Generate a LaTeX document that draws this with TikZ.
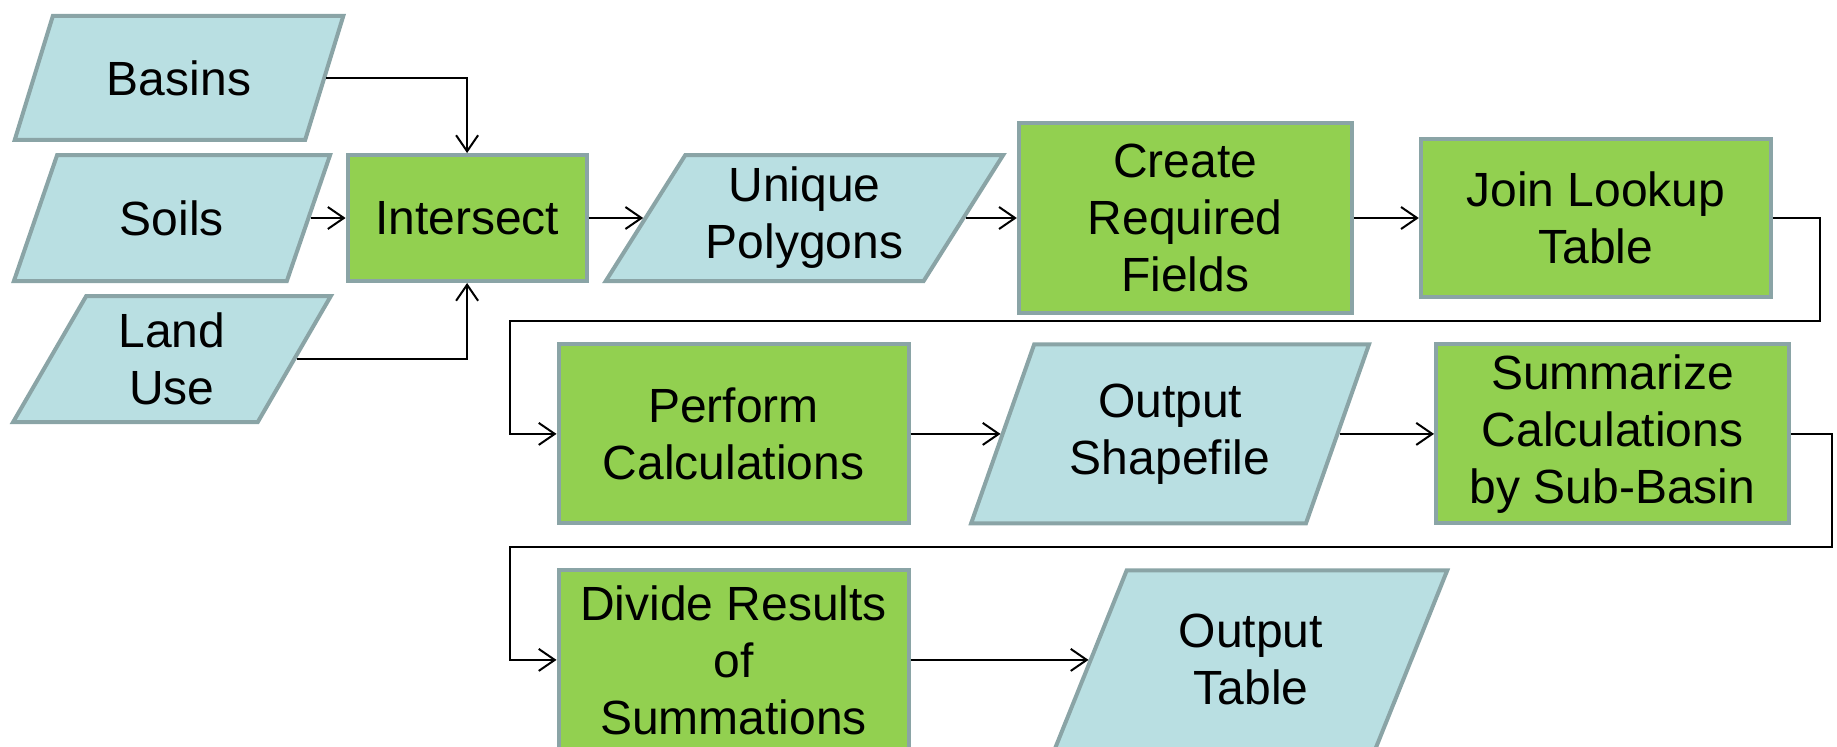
\documentclass[tikz,border=0pt]{standalone}
\usepackage{fontspec}
\setmainfont{Liberation Sans}
\usepackage{tikz}
\usetikzlibrary{arrows.meta,positioning,shapes.geometric,calc}
\definecolor{databox}{HTML}{B9DFE2}
\definecolor{procbox}{HTML}{92D050}
\definecolor{boxline}{HTML}{8AA4A6}

\begin{document}
\begin{tikzpicture}[
  every node/.style={draw=boxline, line width=2pt, align=center, inner sep=2pt, font=\fontsize{24}{28.5}\selectfont},
  proc/.style={fill=procbox, minimum width=175pt, minimum height=89.5pt},
  data/.style={trapezium, fill=databox, trapezium stretches=true, trapezium left angle=#1, trapezium right angle=180-#1},
  arr/.style={-{Straight Barb[length=8pt,width=11pt]}, line width=1pt},
]
  \useasboundingbox (0,0) rectangle (918.5pt,-373pt);

  % inputs
  \node[data=64, minimum width=159pt, minimum height=63pt] (soils) at (86pt,-109pt) {Soils};
  \node[data=62, minimum width=166pt, minimum height=62pt, above=5.5pt of soils, xshift=3.5pt] (basins) {Basins};
  \node[data=64, minimum width=159pt, minimum height=63pt, below=5.5pt of soils] (landuse) {Land\\Use};

  % first row
  \node[proc, minimum width=119.5pt, minimum height=63pt, right=17.5pt of soils] (intersect) {Intersect};
  \node[data=58, minimum width=199pt, minimum height=63pt, right=27.3pt of intersect] (unique) {Unique\\Polygons};
  \node[proc, minimum width=166.5pt, minimum height=95pt, right=25.5pt of unique] (create) {Create\\Required\\Fields};
  \node[proc, minimum height=79pt, right=32.5pt of create] (join) {Join Lookup\\Table};

  % second row
  \node[proc, below=29.7pt of unique, xshift=-35.5pt] (perform) {Perform\\Calculations};
  \node[data=66, minimum width=199pt, minimum height=89.5pt, right=45pt of perform] (shapefile) {Output\\Shapefile};
  \node[proc, minimum width=176.5pt, right=47.2pt of shapefile] (summarize) {Summarize\\Calculations\\by Sub-Basin};

  % third row
  \node[proc, below=21.5pt of perform] (divide) {Divide Results\\of\\Summations};
  \node[data=66, minimum width=196.5pt, minimum height=89.5pt, right=89pt of divide] (table) {Output\\Table};

  \coordinate (turna) at ($(perform.west)+(-23.5pt,56.5pt)$);
  \coordinate (turnb) at ($(divide.west)+(-23.5pt,56.5pt)$);

  \draw[arr] (basins.east) -| (intersect.north);
  \draw[arr] (soils.east) -- (intersect.west);
  \draw[arr] (landuse.east) -| (intersect.south);
  \draw[arr] (intersect.east) -- (unique.west);
  \draw[arr] (unique.east) -- (create.west);
  \draw[arr] (create.east) -- (join.west);
  \draw[arr] (join.east) -- ++(23.5pt,0) |- (turna) |- (perform.west);
  \draw[arr] (perform.east) -- (shapefile.west);
  \draw[arr] (shapefile.east) -- (summarize.west);
  \draw[arr] (summarize.east) -- ++(20.5pt,0) |- (turnb) |- (divide.west);
  \draw[arr] (divide.east) -- (table.west);
\end{tikzpicture}
\end{document}
